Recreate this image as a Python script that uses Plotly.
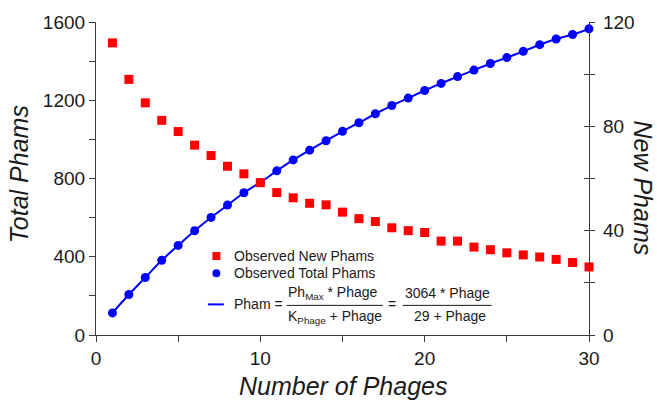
import plotly.graph_objects as go

# ---------------- data ----------------
phages = list(range(1, 31))
total_phams = [113, 207, 294, 382, 458, 533, 601, 664, 727, 780,
               839, 895, 945, 993, 1041, 1085, 1131, 1173, 1211, 1250,
               1286, 1321, 1354, 1388, 1418, 1450, 1484, 1513, 1536, 1565]
new_phams = [112.0, 98.0, 89.0, 82.3, 78.0, 72.8, 68.8, 64.7, 61.8, 58.4,
             54.6, 52.6, 50.5, 49.9, 47.1, 44.6, 43.5, 41.1, 40.0, 39.3,
             36.0, 36.0, 33.7, 32.7, 31.5, 30.7, 29.9, 29.0, 27.8, 26.1]
x_ticks = [0, 10, 20, 30]
y_left_ticks = [0, 400, 800, 1200, 1600]
y_right_ticks = [0, 40, 80, 120]

RED = "#ff0000"
BLUE = "#0000ff"
AX = "#3a3a3a"
FONT = "Liberation Sans, Arial, sans-serif"
TXT = "#1a1a1a"

W, H = 657, 403
L, R, T, B = 96, 589.5, 18, 335


def px(xp):
    return (xp - L) / (R - L)


def py(yp):
    return (B - yp) / (B - T)


fig = go.Figure()
fig.add_trace(go.Scatter(x=phages, y=new_phams, mode="markers", yaxis="y2",
                         marker=dict(symbol="square", size=9, color=RED),
                         cliponaxis=False, showlegend=False))
fig.add_trace(go.Scatter(x=phages, y=total_phams, mode="lines+markers",
                         line=dict(color=BLUE, width=2, shape="spline", smoothing=0.6),
                         marker=dict(symbol="circle", size=9, color=BLUE),
                         cliponaxis=False, showlegend=False))

tickfont = dict(family=FONT, size=19, color=TXT)
fig.update_layout(
    width=W, height=H,
    margin=dict(l=L, r=W - R, t=T, b=H - B, pad=0),
    paper_bgcolor="white", plot_bgcolor="white",
    showlegend=False,
    xaxis=dict(range=[0, 30], tickvals=x_ticks, ticks="outside", ticklen=6,
               tickcolor=AX, showline=True, linecolor=AX, linewidth=1.2,
               showgrid=False, zeroline=False, tickfont=tickfont,
               minor=dict(dtick=5, ticks="outside", ticklen=6, tickcolor=AX)),
    yaxis=dict(range=[0, 1600], tickvals=y_left_ticks, ticks="outside", ticklen=6,
               tickcolor=AX, showline=True, linecolor=AX, linewidth=1.2,
               showgrid=False, zeroline=False, tickfont=tickfont,
               minor=dict(dtick=200, ticks="outside", ticklen=6, tickcolor=AX)),
    yaxis2=dict(range=[0, 120], tickvals=y_right_ticks, overlaying="y", side="right",
                ticks="outside", ticklen=5, tickcolor=AX, showline=True,
                linecolor=AX, linewidth=1.2, showgrid=False, zeroline=False,
                tickfont=tickfont, ticklabelstandoff=4,
                minor=dict(dtick=20, ticks="outside", ticklen=5, tickcolor=AX)),
    yaxis3=dict(range=[0, 120], overlaying="y", side="right", anchor="x",
                ticks="inside", ticklen=5, tickcolor=AX, showticklabels=False,
                tickvals=y_right_ticks, showline=False, showgrid=False, zeroline=False,
                minor=dict(dtick=20, ticks="inside", ticklen=5, tickcolor=AX)),
)
fig.add_trace(go.Scatter(x=[None], y=[None], yaxis="y3", showlegend=False))

annos = []
title_font = dict(family=FONT, size=25, color=TXT)
annos.append(dict(text="<i>Number of Phages</i>", x=px(343), y=py(386.5),
                  xref="paper", yref="paper", showarrow=False, font=title_font,
                  xanchor="center", yanchor="middle"))
annos.append(dict(text="<i>Total Phams</i>", x=px(19), y=py(172),
                  xref="paper", yref="paper", showarrow=False, font=title_font,
                  textangle=-90, xanchor="center", yanchor="middle"))
annos.append(dict(text="<i>New Phams</i>", x=px(644), y=py(186),
                  xref="paper", yref="paper", showarrow=False, font=title_font,
                  textangle=90, xanchor="center", yanchor="middle"))

lf = dict(family=FONT, size=14, color=TXT)
def lab(text, xp, yp, anchor="left"):
    annos.append(dict(text=text, x=px(xp), y=py(yp), xref="paper", yref="paper",
                      showarrow=False, font=lf, xanchor=anchor, yanchor="middle"))

lab("Observed New Phams", 232, 255)
lab("Observed Total Phams", 232, 272.5)
lab("Pham =", 232, 304)
lab("Ph<sub>Max</sub> * Phage", 333, 292, "center")
lab("K<sub>Phage</sub> + Phage", 335, 317, "center")
lab("=", 392, 304, "center")
lab("3064 * Phage", 448, 292, "center")
lab("29 + Phage", 450, 316, "center")

shapes = [
    dict(type="rect", xref="paper", yref="paper", x0=px(212.5), x1=px(220.5),
         y0=py(259), y1=py(251), fillcolor=RED, line=dict(width=0)),
    dict(type="circle", xref="paper", yref="paper", x0=px(212.5), x1=px(220.5),
         y0=py(276.5), y1=py(268.5), fillcolor=BLUE, line=dict(width=0)),
    dict(type="line", xref="paper", yref="paper", x0=px(208), x1=px(224),
         y0=py(304), y1=py(304), line=dict(color=BLUE, width=2)),
    dict(type="line", xref="paper", yref="paper", x0=px(287), x1=px(383),
         y0=py(305), y1=py(305), line=dict(color=TXT, width=1)),
    dict(type="line", xref="paper", yref="paper", x0=px(403), x1=px(492),
         y0=py(305), y1=py(305), line=dict(color=TXT, width=1)),
]
fig.update_layout(annotations=annos, shapes=shapes)

fig.write_html("out.html", config={"displayModeBar": False},
               post_script="document.body.style.margin='0';document.body.style.overflow='hidden';")
